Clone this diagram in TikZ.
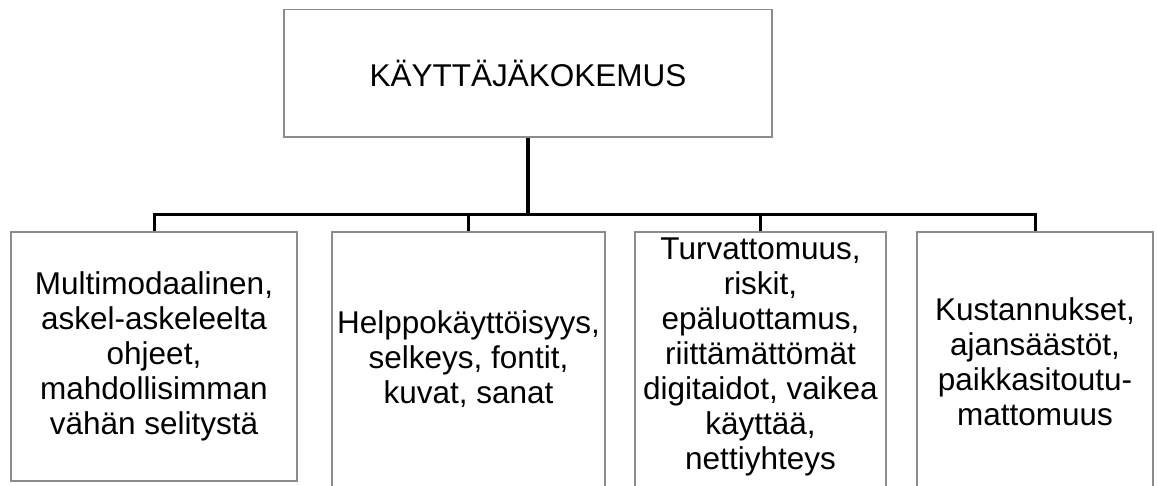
\documentclass[tikz,border=0pt]{standalone}
\usepackage{fontspec}
\setmainfont{Liberation Sans}
\definecolor{boxgray}{RGB}{140,140,140}
\begin{document}
\begin{tikzpicture}[x=1pt,y=-1pt,
  box/.style={draw=boxgray, line width=1.2pt, fill=white, inner sep=0pt, align=center,
    font=\fontsize{31.5}{35}\selectfont},
  txt/.style={align=center, inner sep=0pt, font=\fontsize{31.5}{35}\selectfont},
  conn/.style={draw=black, line width=3pt}]
\useasboundingbox (0,0) rectangle (1157,486);
\clip (0,0) rectangle (1157,486);
\fill[white] (0,0) rectangle (1157,486);
\node[box, minimum width=488pt, minimum height=127.5pt] (top) at (528,73.2) {KÄYTTÄJÄKOKEMUS};
\node[box, minimum width=286pt, minimum height=249pt] (b1) at (154,356.5)
  {Multimodaalinen,\\askel-askeleelta\\ohjeet,\\mahdollisimman\\vähän selitystä};
\node[box, minimum width=273pt, minimum height=273pt,
  label={[txt, yshift=9pt]center:{Helppokäyttöisyys,\\selkeys, fontit,\\kuvat, sanat}}] (b2) at (468.5,368.5) {};
\node[box, minimum width=251pt, minimum height=273pt,
  label={[txt, yshift=12pt]center:{Turvattomuus,\\riskit,\\epäluottamus,\\riittämättömät\\digitaidot, vaikea\\käyttää,\\nettiyhteys}}] (b3) at (760.5,368.5) {};
\node[box, minimum width=236pt, minimum height=273pt,
  label={[txt, yshift=7pt]center:{Kustannukset,\\ajansäästöt,\\paikkasitoutu-\\mattomuus}}] (b4) at (1035,368.5) {};
\coordinate (hub) at (528,215);
\draw[conn, line width=3.4pt] (top.south) -- (hub);
\draw[conn] (b1.north) -- (b1.north |- hub) -- (b4.north |- hub) -- (b4.north);
\draw[conn] (b2.north) -- (b2.north |- hub);
\draw[conn] (b3.north) -- (b3.north |- hub);
\end{tikzpicture}
\end{document}
